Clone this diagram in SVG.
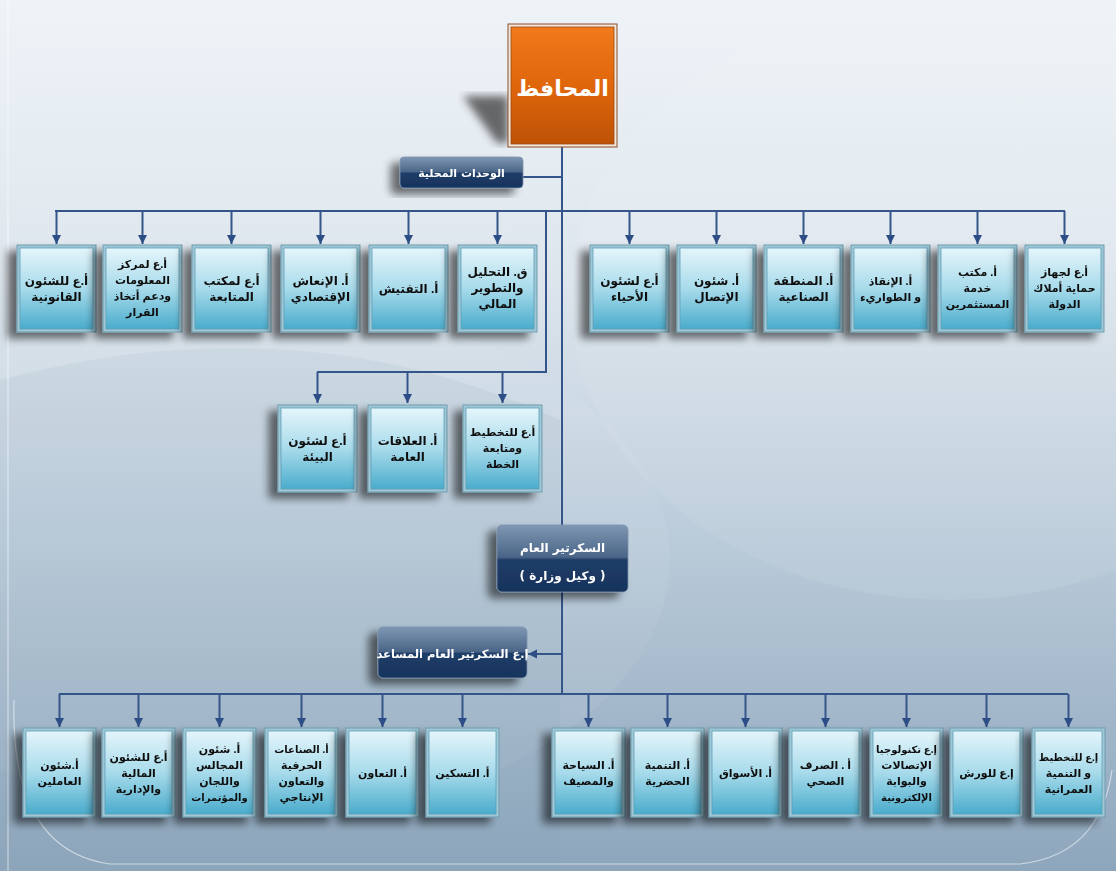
<svg xmlns="http://www.w3.org/2000/svg" width="1116" height="871" viewBox="0 0 1116 871">
<defs>
<linearGradient id="bg" x1="0" y1="0" x2="0" y2="1">
<stop offset="0" stop-color="#eef3f7"/>
<stop offset="0.3" stop-color="#dfe7ee"/>
<stop offset="0.55" stop-color="#c3d2df"/>
<stop offset="0.8" stop-color="#a4b9cb"/>
<stop offset="1" stop-color="#8ea6bc"/>
</linearGradient>
<linearGradient id="boxg" x1="0" y1="0" x2="0" y2="1">
<stop offset="0" stop-color="#e4f5fb"/>
<stop offset="0.5" stop-color="#a8dbeb"/>
<stop offset="1" stop-color="#4aaccc"/>
</linearGradient>
<linearGradient id="orange" x1="0" y1="0" x2="0" y2="1">
<stop offset="0" stop-color="#f07a1c"/>
<stop offset="0.5" stop-color="#e0660c"/>
<stop offset="1" stop-color="#bd5206"/>
</linearGradient>
<linearGradient id="navy" x1="0" y1="0" x2="0" y2="1">
<stop offset="0" stop-color="#7f97b3"/>
<stop offset="0.48" stop-color="#4a6587"/>
<stop offset="0.52" stop-color="#1f3d68"/>
<stop offset="1" stop-color="#17335c"/>
</linearGradient>
<filter id="sh" x="-30%" y="-30%" width="160%" height="160%">
<feGaussianBlur in="SourceAlpha" stdDeviation="4"/>
<feOffset dx="-9" dy="6" result="o"/>
<feComponentTransfer><feFuncA type="linear" slope="0.55"/></feComponentTransfer>
<feMerge><feMergeNode/><feMergeNode in="SourceGraphic"/></feMerge>
</filter>
<filter id="blur"><feGaussianBlur stdDeviation="4"/></filter>
<marker id="ah" viewBox="0 0 10 10" refX="10" refY="5" markerWidth="9" markerHeight="11" orient="auto" markerUnits="userSpaceOnUse">
<path d="M0,0 L10,5 L0,10 z" fill="#2c4d85"/>
</marker>
</defs>
<style>
.frame{fill:#9fc7d5;stroke:#6f9db0;stroke-width:1}
.inner{fill:url(#boxg);stroke:#5e9fb7;stroke-width:0.8}
.t{font-family:"Liberation Sans","DejaVu Sans",sans-serif;font-size:12px;font-weight:bold;fill:#111;text-anchor:middle;direction:rtl}
.s{font-size:11px}
.xs{font-size:10px}
.w{font-family:"DejaVu Sans","Liberation Sans",sans-serif;font-weight:bold;fill:#fff;text-anchor:middle;direction:rtl}
.c{fill:none;stroke:#34558a;stroke-width:2}
.a{fill:none;stroke:#34558a;stroke-width:2;marker-end:url(#ah)}
</style>
<rect width="1116" height="871" fill="url(#bg)"/>
<ellipse cx="250" cy="560" rx="420" ry="260" fill="#ffffff" opacity="0.06"/>
<ellipse cx="950" cy="300" rx="380" ry="300" fill="#ffffff" opacity="0.07"/>
<path d="M0 380 Q300 300 560 420 L560 871 L0 871 Z" fill="#7f9ab4" opacity="0.1"/>
<path d="M8 0 V871" stroke="#ffffff" stroke-width="1" opacity="0.6"/>
<path d="M14 700 Q10 850 110 864 L1020 864 Q1100 855 1112 770" fill="none" stroke="#e6eef4" stroke-width="1.2" opacity="0.7"/>

<g id="connectors">
<path class="c" d="M562 147 V694"/>
<path class="c" d="M523 177 H562"/>
<path class="c" d="M55 211 H1065"/>
<path class="c" d="M546 211 V372 H317"/>
<path class="c" d="M59 694 H1068"/>
<path class="a" d="M562 654 H528"/>
<path class="a" d="M56.5 211 V244"/><path class="a" d="M142.5 211 V244"/><path class="a" d="M231.5 211 V244"/><path class="a" d="M320.5 211 V244"/><path class="a" d="M408.5 211 V244"/><path class="a" d="M497.5 211 V244"/>
<path class="a" d="M629.5 211 V244"/><path class="a" d="M716.5 211 V244"/><path class="a" d="M803.5 211 V244"/><path class="a" d="M890.5 211 V244"/><path class="a" d="M977.5 211 V244"/><path class="a" d="M1064.5 211 V244"/>
<path class="a" d="M317.5 372 V403"/><path class="a" d="M407.5 372 V403"/><path class="a" d="M502.5 372 V403"/>
<path class="a" d="M59.5 694 V727"/><path class="a" d="M138.5 694 V727"/><path class="a" d="M219.5 694 V727"/><path class="a" d="M301.5 694 V727"/><path class="a" d="M382.5 694 V727"/><path class="a" d="M462.5 694 V727"/>
<path class="a" d="M588.5 694 V727"/><path class="a" d="M667.5 694 V727"/><path class="a" d="M745.5 694 V727"/><path class="a" d="M825.5 694 V727"/><path class="a" d="M906.5 694 V727"/><path class="a" d="M986.5 694 V727"/><path class="a" d="M1068.5 694 V727"/>
</g>

<g id="governor">
<polygon points="463,96 508,96 508,143 497,143" fill="#3a3a3a" opacity="0.75" filter="url(#blur)"/>
<rect x="508" y="24" width="109" height="123" fill="#f3e6da" stroke="#8a4f2a" stroke-width="1"/>
<rect x="511" y="27" width="103" height="117" fill="url(#orange)" stroke="#9a4a12" stroke-width="0.8"/>
<text class="w" x="562.5" y="96" font-size="22">المحافظ</text>
</g>

<g id="local-units" filter="url(#sh)">
<rect x="400" y="157" width="123" height="31" rx="4" fill="url(#navy)" stroke="#7e93ad" stroke-width="0.8"/>
<text class="w" x="461.5" y="177" font-size="11" font-weight="normal">الوحدات المحلية</text>
</g>

<g id="secretary" filter="url(#sh)">
<rect x="497" y="525" width="131" height="67" rx="5" fill="url(#navy)" stroke="#7e93ad" stroke-width="0.8"/>
<text class="w" x="562.5" y="552" font-size="12" font-weight="normal">السكرتير العام</text>
<text class="w" x="562.5" y="580" font-size="12" font-weight="normal">( وكيل وزارة )</text>
</g>

<g id="assistant-secretary" filter="url(#sh)">
<rect x="378" y="627" width="149" height="51" rx="5" fill="url(#navy)" stroke="#7e93ad" stroke-width="0.8"/>
<text class="w" x="452.5" y="658" font-size="11.5" font-weight="normal">إ.ع السكرتير العام المساعد</text>
</g>

<!-- Row 1 left -->
<g id="n-legal" filter="url(#sh)"><rect class="frame" x="17" y="245" width="79" height="87"/><rect class="inner" x="20" y="248" width="73" height="81"/>
<text class="t" x="56.5" y="285">أ.ع للشئون</text><text class="t" x="56.5" y="301">القانونية</text></g>
<g id="n-info" filter="url(#sh)"><rect class="frame" x="103" y="245" width="79" height="87"/><rect class="inner" x="106" y="248" width="73" height="81"/>
<text class="t s" x="142.5" y="268">أ.ع لمركز</text><text class="t s" x="142.5" y="284">المعلومات</text><text class="t s" x="142.5" y="300">ودعم أتخاذ</text><text class="t s" x="142.5" y="316">القرار</text></g>
<g id="n-followup" filter="url(#sh)"><rect class="frame" x="192" y="245" width="79" height="87"/><rect class="inner" x="195" y="248" width="73" height="81"/>
<text class="t" x="231.5" y="285">أ.ع لمكتب</text><text class="t" x="231.5" y="301">المتابعة</text></g>
<g id="n-econ" filter="url(#sh)"><rect class="frame" x="281" y="245" width="79" height="87"/><rect class="inner" x="284" y="248" width="73" height="81"/>
<text class="t" x="320.5" y="285">أ. الإنعاش</text><text class="t" x="320.5" y="301">الإقتصادي</text></g>
<g id="n-inspect" filter="url(#sh)"><rect class="frame" x="369" y="245" width="79" height="87"/><rect class="inner" x="372" y="248" width="73" height="81"/>
<text class="t" x="408.5" y="293">أ. التفتيش</text></g>
<g id="n-finance" filter="url(#sh)"><rect class="frame" x="458" y="245" width="79" height="87"/><rect class="inner" x="461" y="248" width="73" height="81"/>
<text class="t" x="497.5" y="276">ق. التحليل</text><text class="t" x="497.5" y="292">والتطوير</text><text class="t" x="497.5" y="308">المالي</text></g>
<!-- Row 1 right -->
<g id="n-districts" filter="url(#sh)"><rect class="frame" x="590" y="245" width="79" height="87"/><rect class="inner" x="593" y="248" width="73" height="81"/>
<text class="t" x="629.5" y="285">أ.ع لشئون</text><text class="t" x="629.5" y="301">الأحياء</text></g>
<g id="n-comm" filter="url(#sh)"><rect class="frame" x="677" y="245" width="79" height="87"/><rect class="inner" x="680" y="248" width="73" height="81"/>
<text class="t" x="716.5" y="285">أ. شئون</text><text class="t" x="716.5" y="301">الإتصال</text></g>
<g id="n-industrial" filter="url(#sh)"><rect class="frame" x="764" y="245" width="79" height="87"/><rect class="inner" x="767" y="248" width="73" height="81"/>
<text class="t" x="803.5" y="285">أ. المنطقة</text><text class="t" x="803.5" y="301">الصناعية</text></g>
<g id="n-rescue" filter="url(#sh)"><rect class="frame" x="851" y="245" width="79" height="87"/><rect class="inner" x="854" y="248" width="73" height="81"/>
<text class="t s" x="890.5" y="285">أ. الإنقاذ</text><text class="t s" x="890.5" y="301">و الطواريء</text></g>
<g id="n-investors" filter="url(#sh)"><rect class="frame" x="938" y="245" width="79" height="87"/><rect class="inner" x="941" y="248" width="73" height="81"/>
<text class="t s" x="977.5" y="276">أ. مكتب</text><text class="t s" x="977.5" y="292">خدمة</text><text class="t s" x="977.5" y="308">المستثمرين</text></g>
<g id="n-stateprop" filter="url(#sh)"><rect class="frame" x="1025" y="245" width="79" height="87"/><rect class="inner" x="1028" y="248" width="73" height="81"/>
<text class="t s" x="1064.5" y="276">أ.ع لجهاز</text><text class="t s" x="1064.5" y="292">حماية أملاك</text><text class="t s" x="1064.5" y="308">الدولة</text></g>
<!-- Row 2 -->
<g id="n-env" filter="url(#sh)"><rect class="frame" x="278" y="405" width="79" height="87"/><rect class="inner" x="281" y="408" width="73" height="81"/>
<text class="t" x="317.5" y="445">أ.ع لشئون</text><text class="t" x="317.5" y="461">البيئة</text></g>
<g id="n-pr" filter="url(#sh)"><rect class="frame" x="368" y="405" width="79" height="87"/><rect class="inner" x="371" y="408" width="73" height="81"/>
<text class="t" x="407.5" y="445">أ. العلاقات</text><text class="t" x="407.5" y="461">العامة</text></g>
<g id="n-plan" filter="url(#sh)"><rect class="frame" x="463" y="405" width="79" height="87"/><rect class="inner" x="466" y="408" width="73" height="81"/>
<text class="t s" x="502.5" y="436">أ.ع للتخطيط</text><text class="t s" x="502.5" y="452">ومتابعة</text><text class="t s" x="502.5" y="468">الخطة</text></g>
<!-- Bottom left -->
<g id="n-staff" filter="url(#sh)"><rect class="frame" x="23" y="728" width="73" height="89"/><rect class="inner" x="26" y="731" width="67" height="83"/>
<text class="t s" x="59.5" y="769">أ.شئون</text><text class="t s" x="59.5" y="785">العاملين</text></g>
<g id="n-finadmin" filter="url(#sh)"><rect class="frame" x="102" y="728" width="73" height="89"/><rect class="inner" x="105" y="731" width="67" height="83"/>
<text class="t s" x="138.5" y="761">أ.ع للشئون</text><text class="t s" x="138.5" y="777">المالية</text><text class="t s" x="138.5" y="793">والإدارية</text></g>
<g id="n-councils" filter="url(#sh)"><rect class="frame" x="183" y="728" width="73" height="89"/><rect class="inner" x="186" y="731" width="67" height="83"/>
<text class="t s" x="219.5" y="753">أ. شئون</text><text class="t s" x="219.5" y="769">المجالس</text><text class="t s" x="219.5" y="785">واللجان</text><text class="t xs" x="219.5" y="801">والمؤتمرات</text></g>
<g id="n-crafts" filter="url(#sh)"><rect class="frame" x="265" y="728" width="73" height="89"/><rect class="inner" x="268" y="731" width="67" height="83"/>
<text class="t xs" x="301.5" y="753">أ. الصناعات</text><text class="t s" x="301.5" y="769">الحرفية</text><text class="t s" x="301.5" y="785">والتعاون</text><text class="t s" x="301.5" y="801">الإنتاجي</text></g>
<g id="n-coop" filter="url(#sh)"><rect class="frame" x="346" y="728" width="73" height="89"/><rect class="inner" x="349" y="731" width="67" height="83"/>
<text class="t s" x="382.5" y="777">أ. التعاون</text></g>
<g id="n-housing" filter="url(#sh)"><rect class="frame" x="426" y="728" width="73" height="89"/><rect class="inner" x="429" y="731" width="67" height="83"/>
<text class="t s" x="462.5" y="777">أ. التسكين</text></g>
<!-- Bottom right -->
<g id="n-tourism" filter="url(#sh)"><rect class="frame" x="552" y="728" width="73" height="89"/><rect class="inner" x="555" y="731" width="67" height="83"/>
<text class="t s" x="588.5" y="769">أ. السياحة</text><text class="t s" x="588.5" y="785">والمصيف</text></g>
<g id="n-urban" filter="url(#sh)"><rect class="frame" x="631" y="728" width="73" height="89"/><rect class="inner" x="634" y="731" width="67" height="83"/>
<text class="t s" x="667.5" y="769">أ. التنمية</text><text class="t s" x="667.5" y="785">الحضرية</text></g>
<g id="n-markets" filter="url(#sh)"><rect class="frame" x="709" y="728" width="73" height="89"/><rect class="inner" x="712" y="731" width="67" height="83"/>
<text class="t s" x="745.5" y="777">أ. الأسواق</text></g>
<g id="n-sewage" filter="url(#sh)"><rect class="frame" x="789" y="728" width="73" height="89"/><rect class="inner" x="792" y="731" width="67" height="83"/>
<text class="t s" x="825.5" y="769">أ . الصرف</text><text class="t s" x="825.5" y="785">الصحي</text></g>
<g id="n-ict" filter="url(#sh)"><rect class="frame" x="870" y="728" width="73" height="89"/><rect class="inner" x="873" y="731" width="67" height="83"/>
<text class="t xs" x="906.5" y="753">إ.ع تكنولوجيا</text><text class="t s" x="906.5" y="769">الإتصالات</text><text class="t s" x="906.5" y="785">والبوابة</text><text class="t xs" x="906.5" y="801">الإلكترونية</text></g>
<g id="n-workshops" filter="url(#sh)"><rect class="frame" x="950" y="728" width="73" height="89"/><rect class="inner" x="953" y="731" width="67" height="83"/>
<text class="t s" x="986.5" y="777">إ.ع للورش</text></g>
<g id="n-urbanplan" filter="url(#sh)"><rect class="frame" x="1032" y="728" width="73" height="89"/><rect class="inner" x="1035" y="731" width="67" height="83"/>
<text class="t xs" x="1068.5" y="761">إ.ع للتخطيط</text><text class="t s" x="1068.5" y="777">و التنمية</text><text class="t s" x="1068.5" y="793">العمرانية</text></g>
</svg>
